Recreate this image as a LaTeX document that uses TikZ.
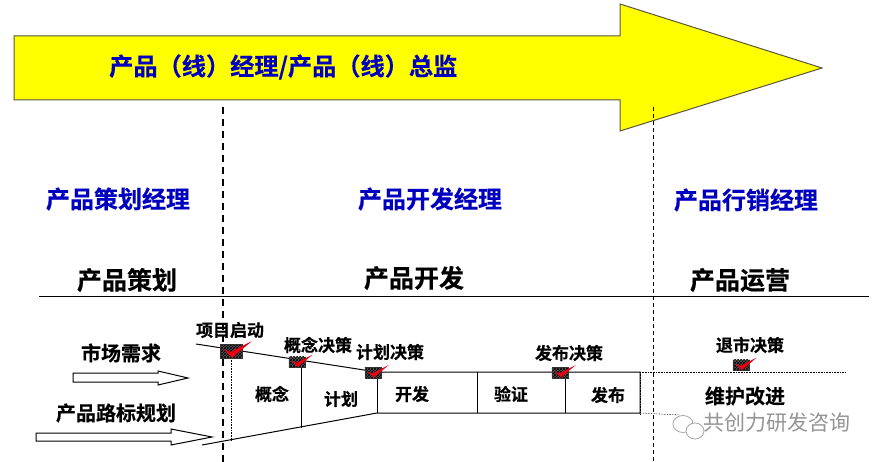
\documentclass[tikz,border=0pt]{standalone}
\usepackage{fontspec}
\setmainfont{Noto Sans CJK SC}[BoldFont={Noto Sans CJK SC Bold},BoldFeatures={FakeBold=0.4}]
\usetikzlibrary{patterns}
\definecolor{bannery}{RGB}{255,255,0}
\definecolor{roleblue}{RGB}{0,0,190}
\definecolor{checkred}{RGB}{230,0,20}
\tikzset{
  every node/.style={inner sep=0pt,font=\bfseries},
  role/.style={text=roleblue,font=\fontsize{24}{24}\selectfont\bfseries},
  phase/.style={text=black,font=\fontsize{25}{25}\selectfont\bfseries},
  lab/.style={text=black,font=\fontsize{20}{20}\selectfont\bfseries},
  small/.style={text=black,font=\fontsize{17}{17}\selectfont\bfseries},
  stage/.style={draw=black,line width=1pt},
  hollow/.style={draw=black,fill=white,line width=1pt},
  dotline/.style={draw=black,line width=.6pt,densely dotted},
  gatebox/.style={draw=black!80,line width=.3pt,preaction={fill=black!65},pattern=crosshatch,pattern color=black},
}
\newcommand{\gate}[4]{% name, x, y (centre), scale
  \node[gatebox,minimum width=#4*22pt,minimum height=#4*14pt] (#1) at (#2,#3) {};
  \fill[checkred] (#2-#4*8,#3-#4*2) -- (#2-#4*1,#3+#4*1) -- (#2+#4*21,#3-#4*10) -- (#2+#4*1,#3+#4*7) -- cycle;
}
\begin{document}
\begin{tikzpicture}[x=1pt,y=-1pt]
\useasboundingbox (0,0) rectangle (878,462);
\fill[white] (0,0) rectangle (878,462);
\draw[draw=black!75!yellow,fill=bannery,line width=1pt] (14,36) -- (620,36) -- (620,4) -- (822,68) -- (620,131) -- (620,100) -- (14,100) -- cycle;
\node[text=roleblue,font=\fontsize{24.2}{24}\selectfont\bfseries,anchor=west] (title) at (109,67) {产品（线）经理/产品（线）总监};

\coordinate (d1t) at (223,107); \coordinate (d1b) at (223,462);
\coordinate (d2t) at (653,107); \coordinate (d2b) at (653,462);
\draw[black,line width=1.6pt,dash pattern=on 7pt off 5pt] (d1t) -- (d1b);
\draw[black,line width=.8pt,dash pattern=on 4pt off 3pt] (d2t) -- (d2b);

\node[role] (r1) at (118,199) {产品策划经理};
\node[role] (r2) at (430,199) {产品开发经理};
\node[role] (r3) at (746,200) {产品行销经理};
\node[phase] (p1) at (127,280) {产品策划};
\node[phase] (p2) at (414,278) {产品开发};
\node[phase] (p3) at (740,280) {产品运营};
\coordinate (hl) at (39,296); \coordinate (hr) at (869,296);
\draw[black,line width=.8pt] (hl) -- (hr);

% stage outline
\coordinate (ttl) at (196,344); \coordinate (t1) at (301,366); \coordinate (t2) at (377,372);
\coordinate (t3) at (477,372); \coordinate (t4) at (565,372); \coordinate (t5) at (640,372);
\coordinate (bl) at (202,445); \coordinate (b1) at (301,428); \coordinate (b2) at (377,413);
\coordinate (b3) at (477,413); \coordinate (b4) at (565,413); \coordinate (b5) at (640,413);
\draw[stage] (ttl) -- (t2) -- (t5) -- (b5) -- (b2) -- (bl);
\draw[stage] (301,362) -- (b1);
\draw[stage] (t2) -- (b2);
\draw[stage] (t3) -- (b3);
\draw[stage] (t4) -- (b4);
\draw[dotline] (231,350) -- (231,440);
\draw[dotline] (t5) -- (846,372);
\draw[dotline] (b5) -- (680,415);
\draw[dotline] (640,372) -- (640,415);

\gate{g1}{231}{351}{1}
\gate{g2}{297}{362}{.75}
\gate{g3}{373}{372.5}{.75}
\gate{g4}{560}{372.5}{.75}
\gate{g5}{741}{365}{.75}

\node[small] (n1) at (230,330) {项目启动};
\node[small] (n2) at (318,345) {概念决策};
\node[small] (n3) at (390,352) {计划决策};
\node[small] (n4) at (569,353) {发布决策};
\node[small] (n5) at (750,345) {退市决策};
\node[small] (s1) at (272,394) {概念};
\node[small] (s2) at (341,399) {计划};
\node[small] (s3) at (412,394) {开发};
\node[small] (s4) at (511,394) {验证};
\node[small] (s5) at (608,395) {发布};
\node[lab] (m) at (745,396) {维护改进};

\node[lab] (a1) at (121,353) {市场需求};
\node[lab] (a2) at (116,413) {产品路标规划};
\draw[hollow] (73,373) -- (158,373) -- (158,371) -- (188,378) -- (158,385) -- (158,382) -- (73,382) -- cycle;
\draw[hollow] (36,433) -- (171,433) -- (171,429) -- (212,437) -- (171,445) -- (171,441) -- (36,441) -- cycle;

% watermark
\draw[black!35,line width=.8pt,fill=white] (683,424) ellipse (10 and 8.5);
\draw[black!35,line width=.8pt,fill=white] (695,431) ellipse (9 and 8);
\node[text=black!42,font=\fontsize{21}{21}\selectfont,anchor=west] (wm) at (703,423) {共创力研发咨询};
\end{tikzpicture}
\end{document}
